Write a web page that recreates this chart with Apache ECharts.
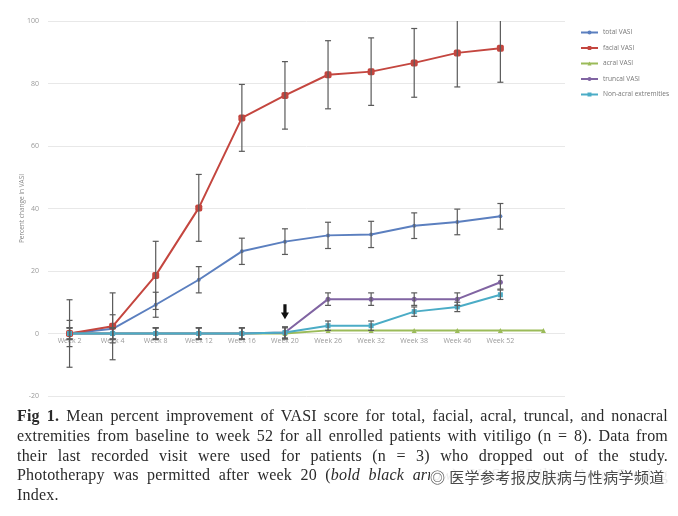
<!DOCTYPE html>
<html>
<head>
<meta charset="utf-8">
<script src="https://cdn.jsdelivr.net/npm/echarts@6/dist/echarts.min.js"></script>
<style>
  html, body { margin:0; padding:0; background:#fff; }
  #wrap { position:relative; width:678px; height:516px; overflow:hidden; background:#fff; }
  #chart { position:absolute; left:0; top:0; width:678px; height:516px; }
  #caption { position:absolute; left:17px; top:406px; width:651px; font-family:"Liberation Serif","DejaVu Serif",serif; font-size:16px; letter-spacing:0.2px; line-height:19.8px; color:#2a2a2a; }
  #caption div { text-align:justify; text-align-last:justify; white-space:nowrap; }
  #caption div.last { text-align-last:left; }
  #wm { position:absolute; left:430px; top:466px; width:242px; height:22px; background:rgba(255,255,255,0.9); font-family:"Noto Sans CJK SC",sans-serif; font-size:15px; letter-spacing:0.4px; line-height:22px; color:#4a4a4a; white-space:nowrap; overflow:hidden; }
</style>
</head>
<body>
<div id="wrap">
  <div id="chart"></div>
  <div id="caption">
    <div><b>Fig 1.</b> Mean percent improvement of VASI score for total, facial, acral, truncal, and nonacral</div>
    <div>extremities from baseline to week 52 for all enrolled patients with vitiligo (n = 8). Data from</div>
    <div>their last recorded visit were used for patients (n = 3) who dropped out of the study.</div>
    <div>Phototherapy was permitted after week 20 (<i>bold black arrow</i>). VASI, Vitiligo Area Scoring</div>
    <div class="last">Index.</div>
  </div>
  <div id="wm">◎ 医学参考报皮肤病与性病学频道</div>
</div>
<script>
// ---- data ----
var categories = ['Week 2','Week 4','Week 8','Week 12','Week 16','Week 20','Week 26','Week 32','Week 38','Week 46','Week 52',''];
var yTicks = [-20, 0, 20, 40, 60, 80, 100];
var seriesNames = ['total VASI','facial VASI','acral VASI','truncal VASI','Non-acral extremities'];
var totalVASI    = [0, 1.5, 9.2, 17.2, 26.3, 29.4, 31.4, 31.7, 34.5, 35.7, 37.5, null];
var totalErr     = [4.2, 4.5, 4.0, 4.2, 4.2, 4.1, 4.2, 4.2, 4.1, 4.1, 4.1, null];
var facialVASI   = [0, 2.3, 18.6, 40.2, 69.0, 76.2, 82.8, 83.8, 86.6, 89.8, 91.3, null];
var facialErr    = [10.8, 10.7, 10.9, 10.7, 10.7, 10.8, 10.9, 10.8, 11.0, 10.9, 10.9, null];
var acralVASI    = [0, 0, 0, 0, 0, 0, 1, 1, 1, 1, 1, 1];
var acralErr     = [1.8, 1.8, 1.8, 1.8, 1.8, 1.8, 0, 0, 0, 0, 0, 0];
var truncalVASI  = [0, 0, 0, 0, 0, 0.3, 11, 11, 11, 11, 16.4, null];
var truncalErr   = [1.8, 1.8, 1.8, 1.8, 1.8, 1.8, 2.0, 2.0, 2.0, 2.0, 2.2, null];
var nonAcral     = [0, 0, 0, 0, 0, 0.3, 2.5, 2.5, 7.0, 8.5, 12.4, null];
var nonAcralErr  = [1.8, 1.8, 1.8, 1.8, 1.8, 1.8, 1.5, 1.5, 1.5, 1.5, 1.5, null];
var arrowWeek = 'Week 20';
var arrowValue = 7;

// ---- chart ----
var colors = ['#5b7fbf', '#c4463f', '#9bbb59', '#8064a2', '#4bacc6'];
var symbols = ['circle', 'roundRect', 'triangle', 'circle', 'rect'];
var symbolSizes = [4, 7, 5, 5, 5];
var values = [totalVASI, facialVASI, acralVASI, truncalVASI, nonAcral];
var errs = [totalErr, facialErr, acralErr, truncalErr, nonAcralErr];

var gridTop = 21, gridBottom = 120, chartH = 516;
var yMin = yTicks[0], yMax = yTicks[yTicks.length - 1];
// distance from grid bottom up to the zero line (so x labels sit under the 0 line)
var zeroOffset = (chartH - gridTop - gridBottom) * (0 - yMin) / (yMax - yMin);

function errData(vals, e) {
  var out = [];
  for (var i = 0; i < vals.length; i++) {
    if (vals[i] != null && e[i]) out.push([i, vals[i], e[i]]);
  }
  return out;
}

function renderErr(params, api) {
  var x = api.value(0), v = api.value(1), e = api.value(2);
  var hi = api.coord([x, v + e]);
  var lo = api.coord([x, v - e]);
  var top = Math.max(hi[1], params.coordSys.y);
  var cw = 3;
  var st = { stroke: '#5a5a5a', lineWidth: 1.2 };
  var children = [
    { type: 'line', shape: { x1: hi[0], y1: top, x2: lo[0], y2: lo[1] }, style: st },
    { type: 'line', shape: { x1: lo[0] - cw, y1: lo[1], x2: lo[0] + cw, y2: lo[1] }, style: st }
  ];
  if (hi[1] >= params.coordSys.y) {
    children.push({ type: 'line', shape: { x1: hi[0] - cw, y1: hi[1], x2: hi[0] + cw, y2: hi[1] }, style: st });
  }
  return { type: 'group', children: children };
}

var series = [];
for (var k = 0; k < 5; k++) {
  var s = {
    name: seriesNames[k],
    type: 'line',
    data: values[k],
    color: colors[k],
    symbol: symbols[k],
    symbolSize: symbolSizes[k],
    showAllSymbol: true,
    lineStyle: { width: 2, color: colors[k] },
    itemStyle: { color: colors[k] },
    z: 3,
    animation: false
  };
  if (k === 2) {
    s.markPoint = {
      symbol: 'path://M3,0 L7,0 L7,9 L10,9 L5,16 L0,9 L3,9 Z',
      symbolSize: [8, 15],
      itemStyle: { color: '#111' },
      label: { show: false },
      data: [{ coord: [arrowWeek, arrowValue] }]
    };
  }
  series.push(s);
}
for (var k2 = 0; k2 < 5; k2++) {
  series.push({
    type: 'custom',
    renderItem: renderErr,
    data: errData(values[k2], errs[k2]),
    encode: { x: 0, y: 1 },
    z: 4,
    silent: true,
    animation: false
  });
}

var chart = echarts.init(document.getElementById('chart'), null, { renderer: 'canvas' });
chart.setOption({
  animation: false,
  backgroundColor: 'transparent',
  textStyle: { fontFamily: 'Open Sans, DejaVu Sans, sans-serif' },
  grid: { left: 48, right: 113, top: gridTop, bottom: gridBottom, containLabel: false },
  legend: {
    data: seriesNames,
    orient: 'vertical',
    left: 575,
    top: 24,
    itemWidth: 17,
    itemHeight: 5,
    itemGap: 8.5,
    textStyle: { fontSize: 6.6, color: '#777' }
  },
  xAxis: {
    type: 'category',
    data: categories,
    boundaryGap: true,
    position: 'bottom',
    offset: -zeroOffset,
    axisLine: { show: false, onZero: false },
    axisTick: { show: false },
    axisLabel: { fontSize: 7, color: '#9a9a9a', margin: 4, interval: 0 },
    splitLine: { show: false }
  },
  yAxis: {
    type: 'value',
    min: yMin,
    max: yMax,
    interval: 20,
    name: 'Percent change in VASI',
    nameLocation: 'middle',
    nameRotate: 90,
    nameGap: 22,
    nameMoveOverlap: false,
    nameTextStyle: { fontSize: 6.5, color: '#8a8a8a' },
    axisLine: { show: false },
    axisTick: { show: false },
    axisLabel: { fontSize: 7, color: '#999', margin: 9 },
    splitLine: { lineStyle: { color: '#e8e8e8', width: 1 } }
  },
  series: series
});
</script>
</body>
</html>
